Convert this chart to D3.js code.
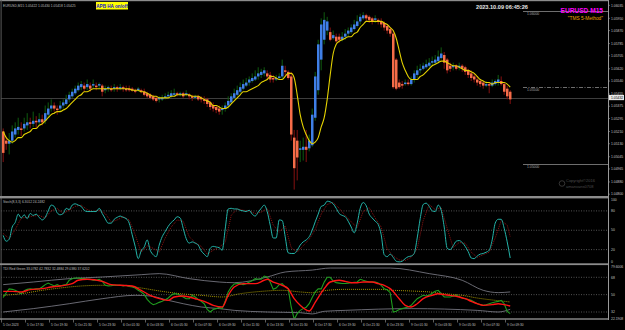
<!DOCTYPE html>
<html>
<head>
<meta charset="utf-8">
<script src="https://cdn.jsdelivr.net/npm/d3@7"></script>
<style>
html, body { margin: 0; padding: 0; background: #000; }
svg { display: block; }
text { font-family: "Liberation Sans", Arial, sans-serif; }
</style>
</head>
<body>
<svg id="chart" width="625" height="330"></svg>
<script>
// EURUSD M15, Heikin-Ashi style bars (5 Oct 15:30 .. 9 Oct 09:45, one value per bar)
const haOpen = [
	1.0521,1.0515,1.0513,1.0515,1.0519,1.0522,1.0523,1.0523,1.0525,1.0527,
	1.0526,1.0528,1.0527,1.0529,1.0528,1.0532,1.0536,1.0538,1.0536,1.0536,
	1.0538,1.0539,1.0542,1.0544,1.0546,1.0548,1.0550,1.0551,1.0550,1.0551,
	1.0551,1.0551,1.0551,1.0551,1.0548,1.0549,1.0549,1.0549,1.0550,1.0549,
	1.0550,1.0549,1.0549,1.0549,1.0548,1.0548,1.0548,1.0547,1.0546,1.0545,
	1.0544,1.0543,1.0542,1.0542,1.0543,1.0544,1.0544,1.0545,1.0546,1.0545,
	1.0546,1.0545,1.0545,1.0544,1.0543,1.0544,1.0543,1.0542,1.0542,1.0540,
	1.0538,1.0537,1.0536,1.0535,1.0536,1.0538,1.0540,1.0543,1.0545,1.0547,
	1.0549,1.0551,1.0553,1.0554,1.0555,1.0557,1.0558,1.0559,1.0559,1.0558,
	1.0556,1.0555,1.0556,1.0557,1.0561,1.0560,1.0557,1.0517,1.0515,1.0509,
	1.0509,1.0511,1.0510,1.0512,1.0530,1.0548,1.0568,1.0581,1.0587,1.0586,
	1.0582,1.0583,1.0583,1.0581,1.0583,1.0585,1.0586,1.0588,1.0590,1.0593,
	1.0595,1.0597,1.0596,1.0595,1.0594,1.0594,1.0593,1.0592,1.0590,1.0588,
	1.0585,1.0568,1.0553,1.0552,1.0552,1.0553,1.0552,1.0555,1.0558,1.0561,
	1.0562,1.0563,1.0564,1.0566,1.0566,1.0567,1.0569,1.0571,1.0568,1.0564,
	1.0563,1.0564,1.0563,1.0564,1.0563,1.0561,1.0559,1.0557,1.0555,1.0554,
	1.0553,1.0551,1.0552,1.0551,1.0552,1.0553,1.0554,1.0552,1.0549,1.0547
]
const haClose = [
	1.0507,1.0513,1.0515,1.0521,1.0523,1.0524,1.0522,1.0526,1.0527,1.0526,
	1.0528,1.0527,1.0529,1.0527,1.0533,1.0536,1.0538,1.0536,1.0535,1.0538,
	1.0540,1.0542,1.0545,1.0547,1.0549,1.0551,1.0552,1.0549,1.0552,1.0549,
	1.0552,1.0550,1.0552,1.0547,1.0549,1.0550,1.0548,1.0550,1.0549,1.0550,
	1.0549,1.0548,1.0548,1.0548,1.0547,1.0549,1.0547,1.0545,1.0544,1.0543,
	1.0542,1.0541,1.0543,1.0543,1.0544,1.0545,1.0546,1.0546,1.0545,1.0546,
	1.0544,1.0546,1.0544,1.0543,1.0544,1.0542,1.0542,1.0541,1.0539,1.0537,
	1.0536,1.0535,1.0534,1.0536,1.0538,1.0541,1.0544,1.0546,1.0548,1.0550,
	1.0552,1.0553,1.0555,1.0556,1.0557,1.0559,1.0560,1.0561,1.0557,1.0555,
	1.0555,1.0556,1.0557,1.0564,1.0560,1.0556,1.0519,1.0497,1.0504,1.0510,
	1.0511,1.0509,1.0515,1.0532,1.0557,1.0578,1.0591,1.0594,1.0593,1.0581,
	1.0584,1.0580,1.0581,1.0583,1.0585,1.0587,1.0589,1.0591,1.0593,1.0596,
	1.0597,1.0595,1.0594,1.0593,1.0595,1.0593,1.0591,1.0589,1.0587,1.0585,
	1.0550,1.0549,1.0550,1.0551,1.0553,1.0552,1.0555,1.0559,1.0561,1.0562,
	1.0564,1.0565,1.0566,1.0567,1.0568,1.0570,1.0572,1.0566,1.0561,1.0562,
	1.0564,1.0562,1.0564,1.0562,1.0560,1.0558,1.0556,1.0555,1.0553,1.0552,
	1.0551,1.0552,1.0551,1.0553,1.0554,1.0555,1.0552,1.0547,1.0544,1.0542
]
const haHigh = [
	1.0523,1.0517,1.0520,1.0525,1.0527,1.0530,1.0527,1.0530,1.0533,1.0530,
	1.0534,1.0531,1.0533,1.0532,1.0538,1.0540,1.0542,1.0540,1.0538,1.0541,
	1.0542,1.0545,1.0547,1.0549,1.0551,1.0553,1.0554,1.0553,1.0555,1.0553,
	1.0555,1.0553,1.0553,1.0552,1.0551,1.0551,1.0551,1.0552,1.0551,1.0552,
	1.0551,1.0551,1.0551,1.0550,1.0549,1.0550,1.0549,1.0549,1.0547,1.0546,
	1.0545,1.0544,1.0544,1.0545,1.0546,1.0547,1.0548,1.0549,1.0547,1.0547,
	1.0547,1.0548,1.0546,1.0545,1.0545,1.0545,1.0544,1.0544,1.0543,1.0541,
	1.0540,1.0538,1.0538,1.0538,1.0540,1.0544,1.0546,1.0549,1.0551,1.0553,
	1.0555,1.0556,1.0557,1.0559,1.0561,1.0563,1.0562,1.0563,1.0561,1.0560,
	1.0558,1.0558,1.0559,1.0568,1.0564,1.0561,1.0560,1.0522,1.0522,1.0515,
	1.0517,1.0522,1.0519,1.0536,1.0560,1.0581,1.0595,1.0599,1.0596,1.0589,
	1.0587,1.0585,1.0585,1.0586,1.0588,1.0589,1.0591,1.0594,1.0597,1.0598,
	1.0599,1.0598,1.0597,1.0596,1.0597,1.0595,1.0595,1.0593,1.0591,1.0589,
	1.0587,1.0569,1.0555,1.0554,1.0555,1.0555,1.0557,1.0561,1.0564,1.0565,
	1.0566,1.0568,1.0569,1.0570,1.0571,1.0574,1.0576,1.0573,1.0569,1.0566,
	1.0566,1.0565,1.0566,1.0565,1.0564,1.0562,1.0561,1.0559,1.0557,1.0555,
	1.0554,1.0554,1.0553,1.0555,1.0555,1.0558,1.0557,1.0553,1.0551,1.0548
]
const haLow = [
	1.0501,1.0509,1.0506,1.0513,1.0517,1.0519,1.0518,1.0521,1.0522,1.0523,
	1.0524,1.0523,1.0525,1.0525,1.0526,1.0530,1.0534,1.0534,1.0532,1.0534,
	1.0536,1.0538,1.0540,1.0543,1.0545,1.0547,1.0548,1.0547,1.0548,1.0547,
	1.0549,1.0548,1.0549,1.0544,1.0546,1.0547,1.0547,1.0547,1.0547,1.0548,
	1.0547,1.0547,1.0547,1.0547,1.0546,1.0547,1.0546,1.0544,1.0543,1.0542,
	1.0541,1.0540,1.0540,1.0541,1.0542,1.0543,1.0543,1.0544,1.0544,1.0544,
	1.0543,1.0544,1.0542,1.0541,1.0542,1.0541,1.0540,1.0539,1.0537,1.0535,
	1.0534,1.0533,1.0532,1.0532,1.0534,1.0536,1.0539,1.0542,1.0544,1.0546,
	1.0548,1.0550,1.0551,1.0553,1.0554,1.0555,1.0556,1.0557,1.0555,1.0553,
	1.0553,1.0554,1.0555,1.0555,1.0557,1.0555,1.0515,1.0483,1.0489,1.0501,
	1.0502,1.0501,1.0508,1.0511,1.0528,1.0545,1.0561,1.0578,1.0584,1.0580,
	1.0581,1.0579,1.0579,1.0580,1.0581,1.0583,1.0585,1.0587,1.0589,1.0591,
	1.0594,1.0593,1.0592,1.0591,1.0592,1.0591,1.0589,1.0587,1.0585,1.0583,
	1.0549,1.0548,1.0549,1.0549,1.0551,1.0551,1.0551,1.0553,1.0556,1.0559,
	1.0561,1.0562,1.0563,1.0564,1.0565,1.0566,1.0568,1.0562,1.0559,1.0560,
	1.0561,1.0561,1.0561,1.0560,1.0558,1.0556,1.0554,1.0553,1.0551,1.0550,
	1.0549,1.0550,1.0546,1.0550,1.0551,1.0551,1.0551,1.0545,1.0542,1.0539
]
// yellow moving average
const maLine = [
	1.0521,1.0517,1.0515,1.0514,1.0515,1.0517,1.0517,1.0519,1.0520,1.0521,
	1.0523,1.0523,1.0525,1.0526,1.0528,1.0530,1.0532,1.0533,1.0534,1.0534,
	1.0535,1.0536,1.0538,1.0540,1.0542,1.0544,1.0545,1.0547,1.0547,1.0548,
	1.0549,1.0549,1.0549,1.0549,1.0549,1.0549,1.0549,1.0549,1.0549,1.0549,
	1.0549,1.0549,1.0549,1.0548,1.0548,1.0548,1.0547,1.0547,1.0546,1.0545,
	1.0544,1.0544,1.0543,1.0543,1.0543,1.0543,1.0544,1.0544,1.0545,1.0545,
	1.0545,1.0545,1.0545,1.0544,1.0544,1.0544,1.0543,1.0542,1.0541,1.0540,
	1.0538,1.0538,1.0537,1.0536,1.0536,1.0537,1.0539,1.0541,1.0543,1.0545,
	1.0547,1.0547,1.0548,1.0549,1.0550,1.0551,1.0553,1.0554,1.0555,1.0557,
	1.0557,1.0556,1.0555,1.0555,1.0557,1.0559,1.0559,1.0556,1.0545,1.0532,
	1.0524,1.0519,1.0515,1.0513,1.0514,1.0517,1.0524,1.0530,1.0542,1.0558,
	1.0572,1.0578,1.0580,1.0581,1.0582,1.0583,1.0583,1.0585,1.0586,1.0589,
	1.0591,1.0593,1.0593,1.0593,1.0593,1.0593,1.0593,1.0592,1.0591,1.0589,
	1.0587,1.0582,1.0574,1.0566,1.0561,1.0557,1.0555,1.0555,1.0555,1.0557,
	1.0558,1.0560,1.0562,1.0564,1.0565,1.0566,1.0567,1.0567,1.0566,1.0565,
	1.0564,1.0564,1.0563,1.0562,1.0561,1.0561,1.0560,1.0559,1.0557,1.0555,
	1.0554,1.0553,1.0553,1.0552,1.0553,1.0553,1.0553,1.0553,1.0552,1.0550
]
// stochastic %K, one value per bar; %D as [bar, value]
const stochMain = [
	42,33,36,55,62,75,69,74,68,76, 73,75,70,66,70,80,89,87,77,74,
	76,84,82,89,91,89,87,81,79,79, 79,79,84,76,68,61,61,67,70,72,
	70,68,61,43,25,6,18,24,35,19, 12,9,27,40,48,56,62,66,71,69,
	53,37,30,32,30,27,18,13,9,22, 25,24,23,19,52,83,84,83,83,81,
	80,79,81,75,72,78,84,89,79,58, 38,38,66,65,40,15,14,14,19,27,
	32,35,40,50,63,75,87,89,95,94, 91,84,76,73,71,64,55,46,61,84,
	93,88,75,69,64,59,43,12,9,13, 8,2,1,2,6,9,10,14,38,68,
	90,92,87,80,79,89,81,55,22,20, 26,33,34,31,25,17,7,6,10,13,
	14,16,19,35,61,67,67,53,32,7
]
const stochSignal = [
	[0,45],[2,37],[4,51],[6,69],[8,70],[10,72],[12,73],[14,69],[16,80],[18,84],
	[20,76],[22,81],[24,87],[26,89],[28,82],[30,79],[32,81],[34,76],[36,63],[38,66],
	[40,71],[42,66],[44,43],[46,16],[48,26],[50,22],[52,16],[54,38],[56,55],[58,66],
	[60,64],[62,40],[64,31],[66,25],[68,13],[70,19],[72,24],[74,31],[76,73],[78,83],
	[80,81],[82,80],[84,76],[86,78],[88,84],[90,58],[92,47],[94,57],[96,23],[98,16],
	[100,26],[102,36],[104,51],[106,75],[108,90],[110,93],[112,84],[114,73],[116,63],[118,54],
	[120,79],[122,85],[124,69],[126,55],[128,21],[130,10],[132,4],[134,3],[136,8],[138,21],
	[140,65],[142,90],[144,82],[146,85],[148,53],[150,23],[152,31],[154,30],[156,16],[158,8],
	[160,12],[162,16],[164,38],[166,65],[168,58],[169,40]
]
const stochLevels = [80, 50, 20]
const stochTickLabels = [100, 80, 50, 20, 0]

// TDI: RSI (green) per bar; signal, market base and bands as [bar, value]
const tdiRsi = [
	47,52,56,55.5,54.5,53,51,54,55.5,56, 55.5,56,56,58,60.4,62,60.4,59,60.4,59,
	60,60.4,65,66.6,67.3,67.3,66.6,66.6,66,65.9, 65,65,65.9,64,59.7,59,59.3,59.7,59.7,59.7,
	59,59.7,58.5,57.9,56.9,54.5,52.8,50.3,45.1,41.7, 39.6,40.6,42,43.1,44.8,46.5,49.3,51,50.7,49.3,
	47.6,45.8,45.8,49.3,47.6,45,43.1,40.6,34.8,32, 34.5,35.5,36.8,35.5,43.1,52.8,57.9,61,61.4,61.4,
	60.4,61.4,63.1,64.5,66.6,65.9,65.9,69.3,68.3,63.1, 55.5,56.9,60.4,61.4,58,56.2,37.2,24.4,30.3,33.7,
	35.5,37,40.6,47,53,56,56,63,68,68, 64,62.5,62,61.5,61.5,62,62.4,62.8,63.1,65.9,
	64.9,64,63.1,63.1,63.1,62,59.7,56.2,55,52, 32,32.7,34.5,35.5,36.5,37.2,38.9,42.4,45.8,47.5,
	49.3,48.6,49.5,51.5,53.5,54.5,51,47.6,47.6,47.6, 48.5,49.3,48,46.5,45.8,45,44.1,42.5,40.6,39.8,
	38.9,39.5,40.6,41.5,42.4,43,44.1,40.6,32.5,30.3
]
const tdiSignal = [
	[0,53.4],[3,53.4],[6,52.8],[9,55.2],[13,56.2],[16,57.9],[19,59.0],[23,61.4],[25,64.9],[28,65.9],
	[33,63.8],[36,60.4],[39,59.7],[43,59.0],[46,54.5],[49,49.3],[53,45.1],[55,44.1],[57,47.6],[60,48.6],
	[64,45.8],[67,43.1],[70,38.9],[73,37.2],[75,49.3],[77,57.9],[80,61.4],[84,61.4],[87,64.9],[88,65.9],
	[90,63.1],[93,59.7],[95,56.2],[97,45.8],[99,38.9],[102,33.0],[104,42.0],[107,56.2],[109,63.1],[112,64.9],
	[114,63.8],[116,62.4],[118,62.4],[120,63.1],[123,63.1],[125,61.4],[127,59.7],[129,56.2],[132,45.8],[134,38.9],
	[136,37.2],[138,40.6],[140,45.8],[143,49.3],[145,51.0],[147,50.0],[149,49.3],[152,47.6],[154,45.8],[156,43.1],
	[158,40.6],[160,38.9],[163,39.6],[165,40.6],[167,39.6],[169,38.2]
]
const tdiBase = [
	[0,49.3],[6,51.0],[13,54.5],[19,56.9],[26,59.0],[33,59.7],[39,59.7],[46,56.9],[53,53.4],[59,51.0],
	[66,49.3],[73,47.6],[79,51.0],[86,53.4],[93,54.5],[99,52.8],[103,52.0],[108,54.5],[114,55.5],[119,55.5],
	[125,55.5],[130,54.5],[136,53.8],[142,52.8],[147,51.0],[153,49.3],[158,46.5],[164,44.1],[169,42.4]
]
const tdiUpper = [
	[0,60.4],[10,63.1],[22,66.6],[33,68.3],[46,70.7],[52,71.8],[62,66.6],[72,63.1],[77,62.4],[88,68.3],
	[94,73.5],[103,75.5],[109,77.6],[129,77.6],[142,71.8],[153,64.9],[160,54.5],[165,52.1],[169,52.8]
]
const tdiLower = [
	[0,32.0],[10,35.5],[22,40.6],[33,45.8],[44,49.3],[49,48.6],[55,44.1],[60,40.6],[66,37.2],[72,35.5],
	[77,33.7],[88,32.0],[99,31.3],[103,30.0],[107,32.7],[114,33.7],[136,35.5],[158,33.7],[165,32.0],[169,34.8]
]
const tdiLevels = [68, 50, 32]
const tdiTickLabels = ['79.6006', '68', '50', '32', '22.1908']
const tdiTickValues = [79.6, 68, 50, 32, 22.8]

// axes
const priceTicks = [1.06035,1.05950,1.05870,1.05785,1.05705,1.05620,1.05540,1.05455,
	1.05375,1.05295,1.05210,1.05130,1.05045,1.04965,1.04880,1.04800]
const priceLevels = [1.06000, 1.05500, 1.05000]
const bidPrice = 1.05432
const timeTickBars = [0,8,16,24,32,40,48,56,64,72,80,88,96,104,112,120,128,136,144,152,160,168]
const timeTickLabels = ['5 Oct 2023','5 Oct 17:30','5 Oct 19:30','5 Oct 21:30','5 Oct 23:30',
	'6 Oct 01:30','6 Oct 03:30','6 Oct 05:30','6 Oct 07:30','6 Oct 09:30','6 Oct 11:30',
	'6 Oct 13:30','6 Oct 15:30','6 Oct 17:30','6 Oct 19:30','6 Oct 21:30','6 Oct 23:30',
	'9 Oct 01:30','9 Oct 03:30','9 Oct 05:30','9 Oct 07:30','9 Oct 09:30']

const colors = {
	bullBody: '#3f7fe6', bearBody: '#f66c48',
	bullWick: '#0f5a0f', bearWick: '#861010',
	ma: '#e4d200', grid: '#8a8a8a', frame: '#8c8c8c',
	axisText: '#c4c4c4', stoch: '#24b3a8', stochSig: '#b01818',
	rsi: '#1f9e1f', sig: '#ff1414', base: '#b4a400', band: '#74747e'
}

const svg = d3.select('#chart')
const plotRight = 608
svg.append('rect').attr('width', 625).attr('height', 330).attr('fill', '#000')

const xBar = d3.scaleLinear().domain([0, 169]).range([2, 509])
const yPrice = d3.scaleLinear().domain([1.0600, 1.0500]).range([10.7, 163.6])
const yStoch = d3.scaleLinear().domain([0, 100]).range([262.5, 198])
const yTdi = d3.scaleLinear().domain([32, 68]).range([312, 277.3])

const defs = svg.append('defs')
function clip(id, y, h) {
	defs.append('clipPath').attr('id', id)
		.append('rect').attr('x', 1).attr('y', y).attr('width', plotRight - 1).attr('height', h)
	return svg.append('g').attr('clip-path', `url(#${id})`)
}
const main = clip('clipMain', 1.5, 194.5)
const stochG = clip('clipStoch', 198.5, 65)
const tdiG = clip('clipTdi', 265, 53.3)

// ---- main panel ----
priceLevels.forEach((p, k) => {
	main.append('line')
		.attr('x1', 523).attr('x2', plotRight)
		.attr('y1', Math.round(yPrice(p)) + 0.5).attr('y2', Math.round(yPrice(p)) + 0.5)
		.attr('stroke', '#8a8a8a').attr('stroke-width', 0.8)
		.attr('stroke-dasharray', k == 1 ? '4,1.5,1,1.5' : null)
	main.append('text')
		.attr('x', 527).attr('y', yPrice(p) + 4.2)
		.attr('font-size', 3.4).attr('fill', '#a8a8a8')
		.text(p.toFixed(5))
})
main.append('line')
	.attr('x1', 1).attr('x2', plotRight)
	.attr('y1', Math.round(yPrice(bidPrice)) + 0.5).attr('y2', Math.round(yPrice(bidPrice)) + 0.5)
	.attr('stroke', '#454545').attr('stroke-width', 0.9)

const candles = haOpen.map((o, i) => ({i, o, c: haClose[i], h: haHigh[i], l: haLow[i]}))
main.append('g').selectAll('line').data(candles).join('line')
	.attr('x1', d => xBar(d.i) + 1.2).attr('x2', d => xBar(d.i) + 1.2)
	.attr('y1', d => yPrice(d.h)).attr('y2', d => yPrice(d.l))
	.attr('stroke', d => d.c >= d.o ? colors.bullWick : colors.bearWick)
	.attr('stroke-width', 1)
main.append('g').selectAll('rect').data(candles).join('rect')
	.attr('x', d => xBar(d.i)).attr('width', 2.5)
	.attr('y', d => yPrice(Math.max(d.o, d.c)))
	.attr('height', d => Math.max(1.2, Math.abs(yPrice(d.o) - yPrice(d.c))))
	.attr('fill', d => d.c >= d.o ? colors.bullBody : colors.bearBody)

main.append('path')
	.attr('d', d3.line().x((d, i) => xBar(i) + 1.2).y(d => yPrice(d)).curve(d3.curveMonotoneX)(maLine))
	.attr('fill', 'none').attr('stroke', colors.ma).attr('stroke-width', 1.1)

// chart texts
svg.append('text').attr('x', 3).attr('y', 6.5).attr('font-size', 3.3).attr('fill', '#bdbdbd')
	.text('EURUSD,M15  1.05422 1.05430 1.05418 1.05425')
svg.append('rect').attr('x', 96).attr('y', 2).attr('width', 32).attr('height', 7.5).attr('fill', '#ffff00')
svg.append('text').attr('x', 112).attr('y', 7.8).attr('text-anchor', 'middle')
	.attr('font-size', 4.6).attr('font-weight', 'bold').attr('fill', '#1010d0').text('APB HA on/off')
svg.append('text').attr('x', 502).attr('y', 8.6).attr('text-anchor', 'middle')
	.attr('font-size', 5.6).attr('font-weight', 'bold').attr('fill', '#e8e8e8').text('2023.10.09 06:45:26')
svg.append('text').attr('x', 603).attr('y', 13).attr('text-anchor', 'end')
	.attr('font-size', 6.6).attr('font-weight', 'bold').attr('fill', '#ff00ff').text('EURUSD M15')
svg.append('text').attr('x', 603).attr('y', 20).attr('text-anchor', 'end')
	.attr('font-size', 4.8).attr('fill', '#f0a800').text('"TMS 5-Method"')
svg.append('circle').attr('cx', 562).attr('cy', 183.5).attr('r', 2.8)
	.attr('fill', 'none').attr('stroke', '#4a4a4a').attr('stroke-width', 0.7)
svg.append('text').attr('x', 566).attr('y', 182).attr('font-size', 4).attr('fill', '#4c4c4c').text('Copyright©2016')
svg.append('text').attr('x', 566).attr('y', 187.5).attr('font-size', 4).attr('fill', '#4c4c4c').text('amanvans0708')

// ---- stochastic ----
stochLevels.forEach(v => {
	stochG.append('line').attr('x1', 1).attr('x2', plotRight)
		.attr('y1', yStoch(v)).attr('y2', yStoch(v))
		.attr('stroke', colors.grid).attr('stroke-width', 0.6).attr('stroke-dasharray', '1,1.5')
})
stochG.append('path')
	.attr('d', d3.line().x(d => xBar(d[0]) + 1.2).y(d => yStoch(d[1]))(stochSignal))
	.attr('fill', 'none').attr('stroke', colors.stochSig).attr('stroke-width', 0.8).attr('stroke-dasharray', '1,1')
stochG.append('path')
	.attr('d', d3.line().x((d, i) => xBar(i) + 1.2).y(d => yStoch(d)).curve(d3.curveMonotoneX)(stochMain))
	.attr('fill', 'none').attr('stroke', colors.stoch).attr('stroke-width', 1)
svg.append('text').attr('x', 3).attr('y', 203).attr('font-size', 3.3).attr('fill', '#bdbdbd')
	.text('Stoch(8,3,3) 6.3012 24.2482')

// ---- TDI ----
tdiLevels.forEach(v => {
	tdiG.append('line').attr('x1', 1).attr('x2', plotRight)
		.attr('y1', yTdi(v)).attr('y2', yTdi(v))
		.attr('stroke', colors.grid).attr('stroke-width', 0.6).attr('stroke-dasharray', '1,1.5')
})
const pairLine = d3.line().x(d => xBar(d[0]) + 1.2).y(d => yTdi(d[1])).curve(d3.curveMonotoneX)
;[tdiUpper, tdiLower].forEach(band => {
	tdiG.append('path').attr('d', pairLine(band))
		.attr('fill', 'none').attr('stroke', colors.band).attr('stroke-width', 0.9)
})
tdiG.append('path').attr('d', pairLine(tdiBase))
	.attr('fill', 'none').attr('stroke', colors.base).attr('stroke-width', 0.9).attr('stroke-dasharray', '1,1')
tdiG.append('path')
	.attr('d', d3.line().x((d, i) => xBar(i) + 1.2).y(d => yTdi(d))(tdiRsi))
	.attr('fill', 'none').attr('stroke', colors.rsi).attr('stroke-width', 1.1)
tdiG.append('path').attr('d', pairLine(tdiSignal))
	.attr('fill', 'none').attr('stroke', colors.sig).attr('stroke-width', 1.4)
svg.append('text').attr('x', 3).attr('y', 269.5).attr('font-size', 3.3).attr('fill', '#bdbdbd')
	.text('TDI Red Green 33.0782 42.7832 32.4884 29.0380 37.6202')

// ---- frames and separators ----
svg.append('rect').attr('x', 0).attr('y', 0).attr('width', plotRight + 1).attr('height', 1.2).attr('fill', colors.frame)
svg.append('rect').attr('x', 0.6).attr('y', 0).attr('width', 1).attr('height', 320).attr('fill', '#5a5a5a')
svg.append('rect').attr('x', 0).attr('y', 196).attr('width', plotRight + 1).attr('height', 2.4).attr('fill', colors.frame)
svg.append('rect').attr('x', 0).attr('y', 263.3).attr('width', plotRight + 1).attr('height', 1.8).attr('fill', colors.frame)
svg.append('rect').attr('x', 0).attr('y', 318.3).attr('width', plotRight + 1).attr('height', 1.4).attr('fill', colors.frame)
svg.append('rect').attr('x', plotRight).attr('y', 0).attr('width', 1).attr('height', 320).attr('fill', '#9a9a9a')

// ---- right axes ----
const axisG = svg.append('g').attr('font-size', 3.4).attr('fill', colors.axisText)
priceTicks.forEach(p => {
	const y = yPrice(p)
	axisG.append('line').attr('x1', plotRight).attr('x2', plotRight + 2).attr('y1', y).attr('y2', y)
		.attr('stroke', '#9a9a9a').attr('stroke-width', 0.6)
	axisG.append('text').attr('x', 611).attr('y', y + 1.2).text(p.toFixed(5))
})
svg.append('rect').attr('x', 609).attr('y', yPrice(bidPrice) - 2.6).attr('width', 15).attr('height', 5.2).attr('fill', '#e8e8e8')
svg.append('text').attr('x', 611).attr('y', yPrice(bidPrice) + 1.3).attr('font-size', 3.4).attr('fill', '#000')
	.text(bidPrice.toFixed(5))
stochTickLabels.forEach(v => {
	const y = Math.min(Math.max(yStoch(v), 200), 262)
	axisG.append('text').attr('x', 611).attr('y', y + 1.2).text(v)
})
tdiTickLabels.forEach((t, k) => {
	const y = Math.min(Math.max(yTdi(tdiTickValues[k]), 267), 319)
	axisG.append('text').attr('x', 611).attr('y', y + 1.2).text(t)
})

// ---- time axis ----
const timeG = svg.append('g').attr('font-size', 3.2).attr('fill', colors.axisText)
timeTickBars.forEach((b, k) => {
	const x = xBar(b) - 0.5
	timeG.append('line').attr('x1', x).attr('x2', x).attr('y1', 319.5).attr('y2', 322.5)
		.attr('stroke', '#9a9a9a').attr('stroke-width', 0.6)
	timeG.append('text').attr('x', x + 1.5).attr('y', 326).text(timeTickLabels[k])
})
</script>
</body>
</html>
